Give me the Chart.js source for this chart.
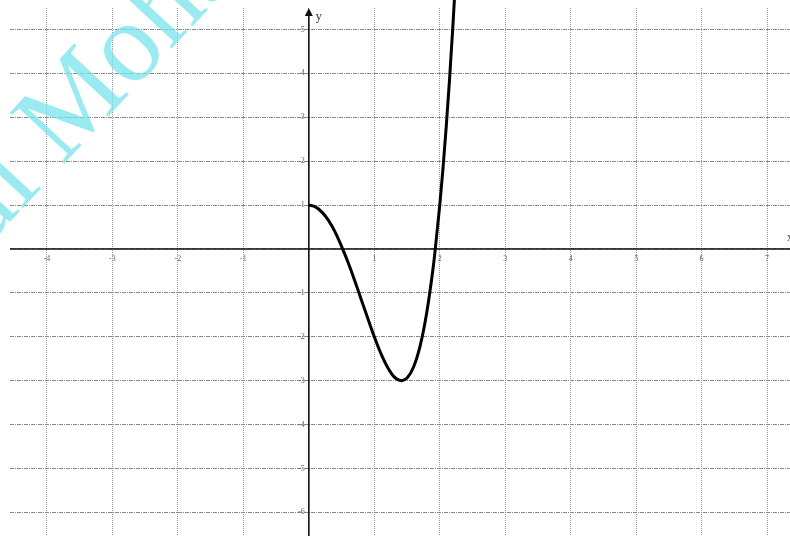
<!DOCTYPE html>
<html>
<head>
<meta charset="utf-8">
<script src="https://cdn.jsdelivr.net/npm/chart.js@4/dist/chart.umd.min.js"></script>
<style>
 body{margin:0;background:#fff;}
 #wrap{width:790px;height:536px;}
</style>
</head>
<body>
<div id="wrap"><canvas id="graph" width="790" height="536"></canvas></div>
<script>
// points (x, y)
const curveX = [0, 0.1, 0.2, 0.3, 0.4, 0.5, 0.6, 0.7, 0.8, 0.9, 1.0, 1.1, 1.2, 1.3, 1.414, 1.5, 1.6, 1.7, 1.8, 1.9, 1.93, 2.0, 2.05, 2.1, 2.15, 2.2, 2.25];
const curveY = [1, 0.96, 0.84, 0.65, 0.39, 0.06, -0.31, -0.72, -1.15, -1.58, -2.0, -2.38, -2.69, -2.91, -3.0, -2.94, -2.69, -2.21, -1.46, -0.41, -0.02, 1.0, 1.85, 2.81, 3.88, 5.07, 6.38];
const xTicks = [-4, -3, -2, -1, 1, 2, 3, 4, 5, 6, 7];
const yTicks = [5, 4, 3, 2, 1, -1, -2, -3, -4, -5, -6];

const points = curveX.map((x, i) => ({x: x, y: curveY[i]}));

// axes, arrows, labels and watermark
const axesPlugin = {
 id: 'axesPlugin',
 beforeDatasetsDraw(chart){
  const ctx = chart.ctx;
  const xs = chart.scales.x, ys = chart.scales.y;
  const ox = xs.getPixelForValue(0), oy = ys.getPixelForValue(0);
  const area = chart.chartArea;
  ctx.save();
  // watermark
  ctx.save();
  ctx.fillStyle = 'rgba(120,228,236,0.75)';
  ctx.font = '114px "Liberation Serif", serif';
  ctx.translate(62, 166);
  ctx.rotate(-47 * Math.PI / 180);
  ctx.textBaseline = 'alphabetic';
  ctx.textAlign = 'left';
  ctx.fillText('Mohamed', 0, 0);
  ctx.textAlign = 'right';
  ctx.fillText('al ', 0, 0);
  ctx.restore();

  ctx.strokeStyle = '#111';
  ctx.lineWidth = 1.6;
  ctx.beginPath();
  ctx.moveTo(area.left, oy);
  ctx.lineTo(area.right, oy);
  ctx.moveTo(ox, area.bottom);
  ctx.lineTo(ox, area.top + 4);
  ctx.stroke();
  // arrow on y axis
  ctx.fillStyle = '#111';
  ctx.beginPath();
  ctx.moveTo(ox, area.top);
  ctx.lineTo(ox - 4, area.top + 8);
  ctx.lineTo(ox + 4, area.top + 8);
  ctx.closePath();
  ctx.fill();

  ctx.font = '12px "Liberation Serif", serif';
  ctx.fillStyle = '#333';
  ctx.textAlign = 'left';
  ctx.textBaseline = 'middle';
  ctx.fillText('y', ox + 7, area.top + 9);
  ctx.fillText('x', area.right - 3, oy - 11);

  ctx.font = '8px "Liberation Serif", serif';
  ctx.fillStyle = '#5d6677';
  ctx.textAlign = 'center';
  xTicks.forEach(v => {
   ctx.fillText(String(v), xs.getPixelForValue(v), oy + 10);
  });
  ctx.textAlign = 'right';
  yTicks.forEach(v => {
   ctx.fillText(String(v), ox - 4, ys.getPixelForValue(v));
  });
  ctx.restore();
 }
};

new Chart(document.getElementById('graph').getContext('2d'), {
 type: 'line',
 data: {
  datasets: [{
   data: points,
   borderColor: '#000',
   borderWidth: 3,
   pointRadius: 0,
   fill: false,
   cubicInterpolationMode: 'monotone',
   clip: false
  }]
 },
 options: {
  responsive: false,
  animation: false,
  layout: {padding: {left: 10, top: 8, right: 0, bottom: 0}},
  plugins: {legend: {display: false}, tooltip: {enabled: false}},
  scales: {
   x: {
    type: 'linear',
    min: -4.565,
    max: 7.35,
    ticks: {display: false, stepSize: 1, includeBounds: false},
    grid: {color: '#999', lineWidth: 1, drawTicks: false},
    border: {display: false, dash: [1, 1]}
   },
   y: {
    type: 'linear',
    min: -6.54,
    max: 5.49,
    ticks: {display: false, stepSize: 1, includeBounds: false},
    grid: {color: '#888', lineWidth: 1, drawTicks: false},
    border: {display: false, dash: [4, 1, 1, 1]}
   }
  }
 },
 plugins: [axesPlugin]
});
</script>
</body>
</html>
